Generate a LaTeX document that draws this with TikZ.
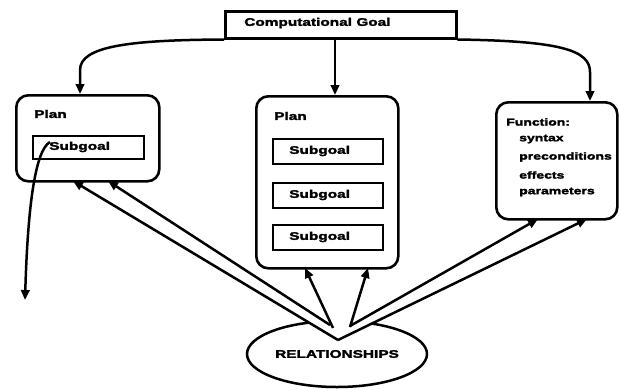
\documentclass[tikz,border=0pt]{standalone}
\usepackage{fontspec}
\setmainfont{Liberation Sans}[FakeStretch=1.4]
\newfontfamily\heavy{Liberation Sans Bold}[FakeStretch=1.4,FakeBold=2.5]
\usetikzlibrary{arrows.meta,shapes.geometric}

\begin{document}
\begin{tikzpicture}[x=1pt,y=-1pt,
  line width=2.5pt,
  tip/.style={-{Triangle[length=10pt,width=8.5pt]}},
  panel/.style={draw,rounded corners=12pt,anchor=north west,inner sep=0pt,line width=2.6pt},
  subbox/.style={draw,anchor=north west,inner sep=0pt,minimum width=110pt,minimum height=25pt,line width=2.3pt},
  lab/.style={anchor=west,inner sep=0pt,font=\heavy\fontsize{11}{13}\selectfont},
  small/.style={anchor=west,inner sep=0pt,font=\heavy\fontsize{10}{12}\selectfont},
]
\fill[white] (0,0) rectangle (620,389);
\useasboundingbox (0,0) rectangle (620,389);

% goal box at the top
\node[draw,anchor=north west,minimum width=231pt,minimum height=27pt,inner sep=0pt] (goal) at (224,10) {};
\node[lab] (goaltxt) at (243,23) {Computational Goal};

% the three panels
\node[panel,minimum width=143pt,minimum height=86pt] (left) at (15,94) {};
\node[panel,minimum width=142pt,minimum height=172pt] (mid) at (255,95) {};
\node[panel,minimum width=121pt,minimum height=117pt] (right) at (495,101) {};

% left plan
\node[lab] (lplan) at (33,114) {Plan};
\node[subbox,minimum width=111pt,minimum height=23pt] (ls) at (32,135) {};
\node[lab] (lstxt) at (48,147) {Subgoal};

% middle plan
\node[lab] (mplan) at (273,116) {Plan};
\node[subbox] (ms1) at (272,138) {};
\node[subbox] (ms2) at (272,182) {};
\node[subbox] (ms3) at (272,224) {};
\node[lab] (ms1t) at (288,151) {Subgoal};
\node[lab] (ms2t) at (288,195) {Subgoal};
\node[lab] (ms3t) at (288,237) {Subgoal};

% function description
\node[small] (fn) at (505,122) {Function:};
\node[small] (f1) at (518,139) {syntax};
\node[small] (f2) at (518,157) {preconditions};
\node[small] (f3) at (518,175) {effects};
\node[small] (f4) at (518,192) {parameters};

% relationships ellipse
\node[draw,ellipse,minimum width=180pt,minimum height=66pt,inner sep=0pt,
      font=\heavy\fontsize{11}{13}\selectfont] (rel) at (337,354) {RELATIONSHIPS};

% meeting points at the top of the ellipse
\coordinate (apex) at (338,340);
\coordinate (lj) at (330,325);
\coordinate (rj) at (350,326);
\coordinate (mj1) at (333,328);
\coordinate (mj2) at (350,327);

% arrow ends on the panels
\coordinate (la) at (73,181);
\coordinate (lb) at (108,181);
\coordinate (ma) at (305,268);
\coordinate (mb) at (368,268);
\coordinate (ra) at (538,219);
\coordinate (rb) at (587,219);

% the notch of the ellipse under the converging lines
\fill[white] (290,311.6) -- (apex) -- (390,316) -- cycle;

% links from the ellipse to the panels
\draw[tip] (apex) -- (la);
\draw[tip] (lj) -- (lb);
\draw[tip] (apex) -- (rb);
\draw[tip] (rj) -- (ra);
\draw[tip] (mj1) -- (ma);
\draw[tip] (mj2) -- (mb);

% goal decomposition
\coordinate (ltop) at (80,94);
\coordinate (gm) at (335,37);
\coordinate (mtop) at (335,95);
\coordinate (rtop) at (590,101);
\draw[tip] (goal.south west) .. controls (130,40) and (80,46) .. (80,70) -- (ltop);
\draw[tip] (gm) -- (mtop);
\draw[tip] (goal.south east) .. controls (560,41) and (590,50) .. (590,72) -- (rtop);

% subgoal expanded elsewhere
\coordinate (sgstart) at (50,142);
\coordinate (out) at (25,300);
\draw[tip] (sgstart) .. controls (36,150) and (28,200) .. (out);
\end{tikzpicture}
\end{document}
